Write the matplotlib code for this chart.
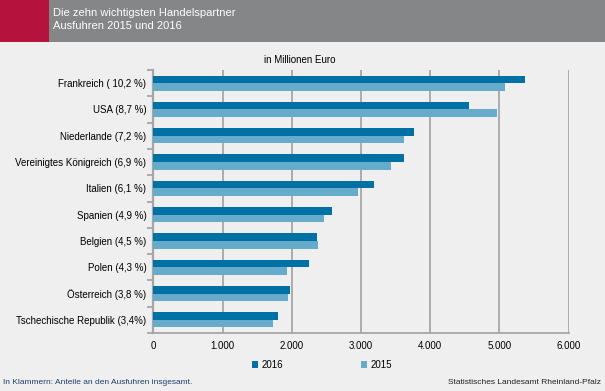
import numpy as np
import matplotlib
matplotlib.use('Agg')
import matplotlib.pyplot as plt
from matplotlib.patches import Rectangle

plt.rcParams['font.family'] = ['Liberation Sans', 'DejaVu Sans']

# ---- data ----
laender = ['Frankreich ( 10,2 %)', 'USA (8,7 %)', 'Niederlande (7,2 %)',
           'Vereinigtes Königreich (6,9 %)', 'Italien (6,1 %)', 'Spanien (4,9 %)',
           'Belgien (4,5 %)', 'Polen (4,3 %)', 'Österreich (3,8 %)',
           'Tschechische Republik (3,4%)']
werte_2016 = [5371, 4562, 3767, 3623, 3189, 2582, 2365, 2250, 1975, 1802]
werte_2015 = [5082, 4967, 3623, 3434, 2958, 2467, 2380, 1928, 1946, 1730]
xticks = [0, 1000, 2000, 3000, 4000, 5000, 6000]
xticklabels = ['0', '1.000', '2.000', '3.000', '4.000', '5.000', '6.000']

BG = '#eeefee'
C16 = '#0071a4'
C15 = '#66abc9'
GRID = '#a6a6a6'

W, H = 605, 391
fig = plt.figure(figsize=(W/100, H/100), dpi=100, facecolor=BG)

# header band
fig.patches.append(Rectangle((0, 1 - 42/H), 1, 42/H, transform=fig.transFigure,
                             facecolor='#858688', edgecolor='none', zorder=0))
fig.patches.append(Rectangle((0, 1 - 42/H), 49/W, 42/H, transform=fig.transFigure,
                             facecolor='#b5123e', edgecolor='none', zorder=1))
fig.text(53/W, 1 - 13/H, 'Die zehn wichtigsten Handelspartner', color='white',
         fontsize=8, va='center', ha='left')
fig.text(53/W, 1 - 26/H, 'Ausfuhren 2015 und 2016', color='white',
         fontsize=8, va='center', ha='left')

# axes
x0, x1 = 153.3, 568.7
y0, y1 = 70, 333
ax = fig.add_axes([x0/W, 1 - y1/H, (x1-x0)/W, (y1-y0)/H])
ax.set_facecolor(BG)

n = len(laender)
pos = np.arange(n)
h = 0.29
ax.barh(pos - h/2, werte_2016, height=h, color=C16, label='2016', zorder=3)
ax.barh(pos + h/2, werte_2015, height=h, color=C15, label='2015', zorder=3)

ax.set_xlim(0, 6000)
ax.set_ylim(n - 0.5, -0.5)
ax.set_xticks(xticks)
ax.set_xticklabels(xticklabels, fontsize=7)
ax.tick_params(axis='x', length=0, pad=6)
ax.set_yticks(pos)
ax.set_yticklabels(laender, fontsize=7)
ax.tick_params(axis='y', which='major', length=0, pad=5)
ax.set_yticks(np.arange(n + 1) - 0.5, minor=True)
ax.tick_params(axis='y', which='minor', length=4, width=1.3, color=GRID, direction='out')

ax.grid(axis='x', color=GRID, lw=1.3, zorder=0)
for s in ['top', 'right']:
    ax.spines[s].set_visible(False)
ax.spines['left'].set_color(GRID)
ax.spines['left'].set_linewidth(1.6)
ax.spines['bottom'].set_color(GRID)
ax.spines['bottom'].set_linewidth(1.3)

fig.text(300/W, 1 - 60/H, 'in Millionen Euro', fontsize=7, ha='center', va='center')

# legend
leg = fig.legend(loc='center', bbox_to_anchor=(322/W, 1 - 365/H), ncol=2,
                 frameon=False, fontsize=7, handlelength=0.6, handleheight=0.6,
                 columnspacing=8, handletextpad=0.4)

fig.text(3/W, 1 - 383/H, 'In Klammern: Anteile an den Ausfuhren insgesamt.',
         fontsize=6, color='#1f3f6e', ha='left', va='center')
fig.text(601/W, 1 - 383/H, 'Statistisches Landesamt Rheinland-Pfalz',
         fontsize=6, color='#222222', ha='right', va='center')

fig.savefig('out.png', dpi=100, facecolor=BG)
